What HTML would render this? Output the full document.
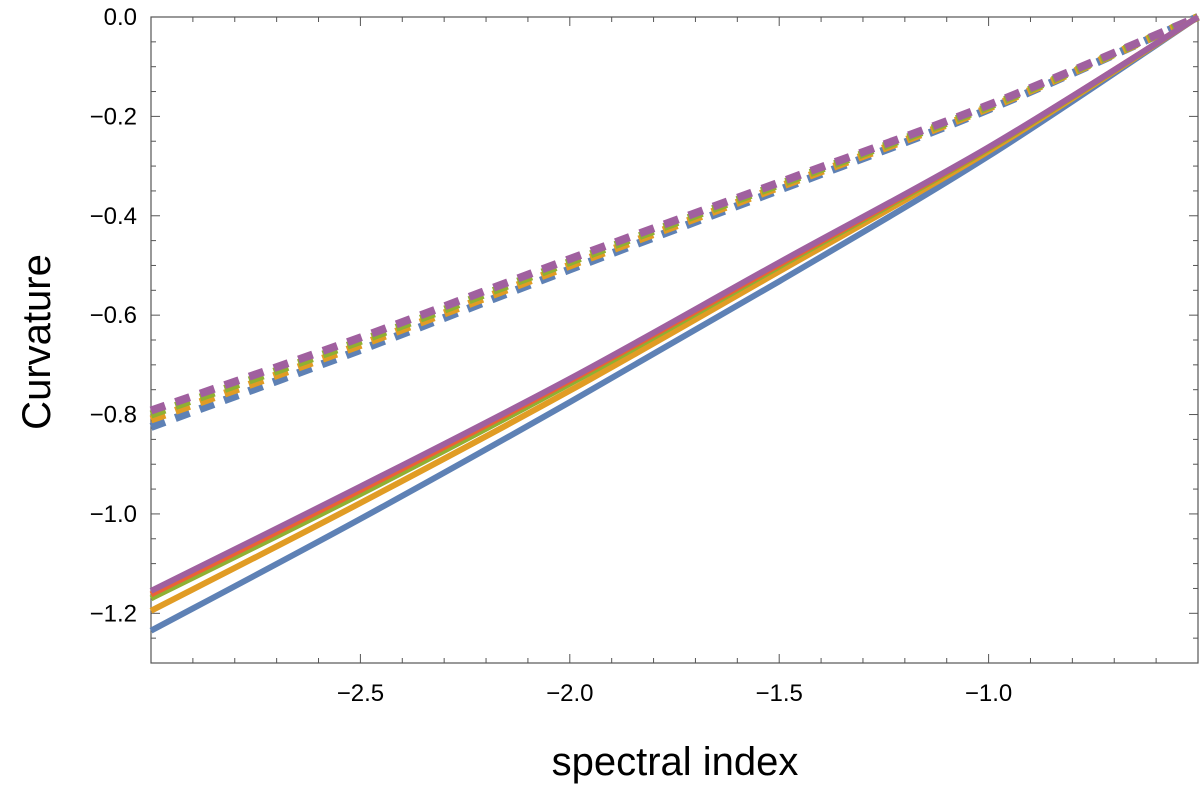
<!DOCTYPE html>
<html><head><meta charset="utf-8"><style>
body{margin:0;background:#fff;}
svg text{font-family:"Liberation Sans",sans-serif;}
</style></head><body>
<svg id="chart" width="1200" height="790" xmlns="http://www.w3.org/2000/svg">
<g id="axes"></g>
<g id="series"></g>
<text x="675" y="775" font-size="40" text-anchor="middle">spectral index</text>
<text transform="translate(50,342) rotate(-90)" font-size="40" text-anchor="middle">Curvature</text>
</svg>
<script>
const xs = [-3, -2.5, -2, -1.5, -1, -0.5];
const solidBlue = [-1.235, -1.01, -0.775, -0.532, -0.28, 0];
const solidOrange = [-1.195, -0.978, -0.752, -0.512, -0.27, 0];
const solidGreen = [-1.17, -0.96, -0.738, -0.502, -0.265, 0];
const solidRed = [-1.162, -0.952, -0.732, -0.498, -0.263, 0];
const solidPurple = [-1.155, -0.945, -0.728, -0.494, -0.262, 0];
const dotBlue = [-0.825, -0.67, -0.508, -0.348, -0.186, 0];
const dotOrange = [-0.81, -0.66, -0.5, -0.342, -0.183, 0];
const dotGreen = [-0.80, -0.652, -0.493, -0.337, -0.18, 0];
const dotPurple = [-0.792, -0.645, -0.487, -0.333, -0.177, 0];
const xTicks = [-2.5, -2.0, -1.5, -1.0];
const xTickLabels = ["\u22122.5", "\u22122.0", "\u22121.5", "\u22121.0"];
const yTicks = [0, -0.2, -0.4, -0.6, -0.8, -1.0, -1.2];
const yTickLabels = ["0.0", "\u22120.2", "\u22120.4", "\u22120.6", "\u22120.8", "\u22121.0", "\u22121.2"];

const L=151,R=1198,T=17,B=663,X0=-3,X1=-0.5,Y0=-1.3,Y1=0;
const sx=v=>L+(v-X0)/(X1-X0)*(R-L);
const sy=v=>B-(v-Y0)/(Y1-Y0)*(B-T);
const NS="http://www.w3.org/2000/svg";
function mk(tag,attrs,parent){const e=document.createElementNS(NS,tag);for(const k in attrs)e.setAttribute(k,attrs[k]);parent.appendChild(e);return e;}
const ax=document.getElementById('axes');
const frame=mk('rect',{x:L,y:T,width:R-L,height:B-T,fill:'none',stroke:'#555','stroke-width':1.2},ax);


for(let i=0;i<=25;i++){const v=X0+i*0.1;const x=sx(v);const major=Math.abs(v*2-Math.round(v*2))<1e-6;const len=major?9:5;
 mk('line',{x1:x,y1:B,x2:x,y2:B-len,stroke:'#555'},ax);mk('line',{x1:x,y1:T,x2:x,y2:T+len,stroke:'#555'},ax);}
for(let i=0;i<=26;i++){const v=-i*0.05;const y=sy(v);const major=i%4===0;const len=major?9:5;
 mk('line',{x1:L,y1:y,x2:L+len,y2:y,stroke:'#555'},ax);mk('line',{x1:R,y1:y,x2:R-len,y2:y,stroke:'#555'},ax);}
xTicks.forEach((v,i)=>{const t=mk('text',{x:sx(v),y:B+38,'font-size':24,'text-anchor':'middle'},ax);t.textContent=xTickLabels[i];
 
 });
yTicks.forEach((v,i)=>{const t=mk('text',{x:L-14,y:sy(v)+8,'font-size':24,'text-anchor':'end'},ax);t.textContent=yTickLabels[i];
 
 });
function path(ys){const p=xs.map((x,i)=>[sx(x),sy(ys[i])]);let d=`M${p[0][0]},${p[0][1]}`;
 for(let i=0;i<p.length-1;i++){const p0=p[Math.max(0,i-1)],p1=p[i],p2=p[i+1],p3=p[Math.min(p.length-1,i+2)];
  d+=` C${p1[0]+(p2[0]-p0[0])/6},${p1[1]+(p2[1]-p0[1])/6} ${p2[0]-(p3[0]-p1[0])/6},${p2[1]-(p3[1]-p1[1])/6} ${p2[0]},${p2[1]}`;}return d;}
const sg=document.getElementById('series');
const defs=[[dotBlue,'#5e81b5',true,'dotted-blue'],[dotOrange,'#e19c24',true,'dotted-orange'],[dotGreen,'#8fb032',true,'dotted-green'],[dotPurple,'#a0609f',true,'dotted-purple'],
 [solidBlue,'#5e81b5',false,'solid-blue'],[solidOrange,'#e19c24',false,'solid-orange'],[solidGreen,'#8fb032',false,'solid-green'],[solidRed,'#eb6235',false,'solid-red'],[solidPurple,'#a0609f',false,'solid-purple']];
defs.forEach(d=>{const e=mk('path',{d:path(d[0]),fill:'none',stroke:d[1],'stroke-width':d[2]?8:6,'stroke-dasharray':d[2]?'15 11':'none'},sg);
 
 });
</script>
</body></html>
